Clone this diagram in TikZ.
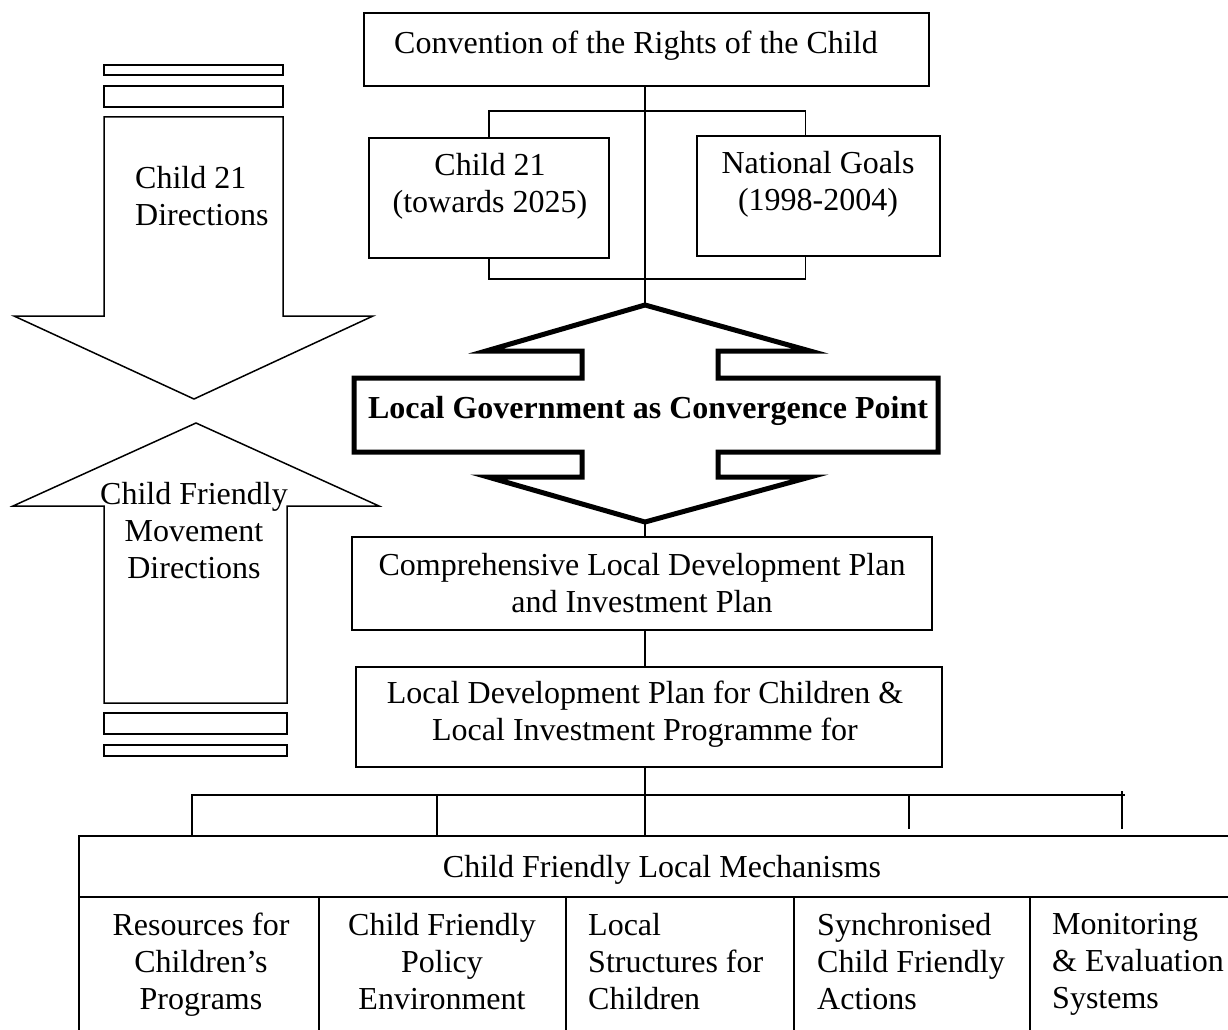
\documentclass[tikz,border=0pt]{standalone}
\usepackage{fontspec}
\setmainfont{Liberation Serif}
\usetikzlibrary{calc}
\begin{document}
\begin{tikzpicture}[x=1pt,y=-1pt,
  box/.style={draw, line width=1.5pt, inner sep=0pt, rectangle},
  ln/.style={line width=1.5pt},
  shp/.style={line width=1.5pt, line join=miter},
  thick shp/.style={line width=5pt, line join=miter},
  txt/.style={font=\fontsize{32}{37}\selectfont, inner sep=0pt,
    execute at begin node=\strut, execute at end node=\strut}]
\useasboundingbox (0,0) rectangle (1228,1030);
\clip (0,0) rectangle (1228,1030);

% ---- top boxes
\node[box, minimum width=565pt, minimum height=73pt] (conv) at (646.5,49.5) {};
\node[txt, anchor=west] (convt) at (394,46.6) {Convention of the Rights of the Child};
\node[box, minimum width=240pt, minimum height=120pt] (c21) at (489,198) {};
\node[txt, align=center] (c21t) at (490,188) {Child 21\\(towards 2025)};
\node[box, minimum width=243pt, minimum height=120pt] (ng) at (818.5,196) {};
\node[txt, align=center] (ngt) at (818,186) {National Goals\\(1998-2004)};

% ---- convergence shape
\coordinate (cgtop) at (645,305);
\coordinate (cgbot) at (645,522);
\draw[thick shp] (cgtop) -- (810,351) -- (718,351) -- (718,378) -- (938,378) -- (938,452)
  -- (718,452) -- (718,477) -- (810,477) -- (cgbot) -- (488,477) -- (582,477) -- (582,452)
  -- (354,452) -- (354,378) -- (582,378) -- (582,351) -- (486,351) -- cycle;
\node[txt, font=\fontsize{32}{37}\selectfont\bfseries] (lg) at (648,410.6) {Local Government as Convergence Point};

% ---- plan boxes
\node[box, minimum width=580pt, minimum height=93pt] (comp) at (642,583.5) {};
\node[txt, align=center] (compt) at (642,588) {Comprehensive Local Development Plan\\and Investment Plan};
\node[box, minimum width=586pt, minimum height=100pt] (ldp) at (649,717) {};
\node[txt, align=center] (ldpt) at (645,716) {Local Development Plan for Children \&\\Local Investment Programme for};

% ---- mechanisms
\node[box, minimum width=1161pt, minimum height=61pt] (mech) at (659.5,866.5) {};
\node[txt] (mecht) at (662,869.6) {Child Friendly Local Mechanisms};
\node[box, minimum width=240pt, minimum height=148pt] (m1) at (199,971) {};
\node[box, minimum width=247pt, minimum height=148pt] (m2) at (442.5,971) {};
\node[box, minimum width=228pt, minimum height=148pt] (m3) at (680,971) {};
\node[box, minimum width=236pt, minimum height=148pt] (m4) at (912,971) {};
\node[box, minimum width=210pt, minimum height=148pt] (m5) at (1135,971) {};
\node[txt, align=center] (m1t) at (201,966.6) {Resources for\\Children’s\\Programs};
\node[txt, align=center] (m2t) at (442,966.6) {Child Friendly\\Policy\\Environment};
\node[txt, align=left, anchor=west] (m3t) at (588,966.6) {Local\\Structures for\\Children};
\node[txt, align=left, anchor=west] (m4t) at (817,966.6) {Synchronised\\Child Friendly\\Actions};
\node[txt, align=left, anchor=west] (m5t) at (1052,966.6) {Monitoring\\\& Evaluation\\Systems};

% ---- left arrows
\draw[shp] (104,65) rectangle (283,75);
\draw[shp] (104,86) rectangle (283,107);
\draw[shp] (104,117) -- (283,117) -- (283,316) -- (373,316) -- (194,399) -- (14,316) -- (104,316) -- cycle;
\node[txt, align=left, anchor=west] (dn) at (135,201) {Child 21\\Directions};
\draw[shp] (196,423) -- (379,506) -- (287,506) -- (287,703) -- (104,703) -- (104,506) -- (13,506) -- cycle;
\draw[shp] (104,713) rectangle (287,734);
\draw[shp] (104,745) rectangle (287,756);
\node[txt, align=center] (up) at (194,535.6) {Child Friendly\\Movement\\Directions};

% ---- connectors
\coordinate (tb) at (0,111);
\coordinate (bb) at (0,279);
\coordinate (bus) at (0,795);
\draw[ln] (conv.south -| cgtop) -- (cgtop);
\draw[ln] (c21.north) -- (c21.north |- tb) -- ($(ng.north |- tb)+(-13,0)$) -- ($(ng.north)+(-13,0)$);
\draw[ln] (c21.south) -- (c21.south |- bb) -- ($(ng.south |- bb)+(-13,0)$) -- ($(ng.south)+(-13,0)$);
\draw[ln] (cgbot) -- (cgbot |- comp.north);
\draw[ln] (comp.south -| cgbot) -- (ldp.north -| cgbot);
\draw[ln] (ldp.south -| cgbot) -- (mech.north -| cgbot);
\coordinate (busL) at (191,795);
\coordinate (busR) at (1125,795);
\draw[ln] (busL) -- (busR);
\draw[ln] (192,795) -- (mech.north -| 192,0);
\draw[ln] (437,795) -- (mech.north -| 437,0);
\draw[ln] (909,795) -- (909,829);
\draw[ln] (1122,791) -- (1122,829);
\end{tikzpicture}
\end{document}
